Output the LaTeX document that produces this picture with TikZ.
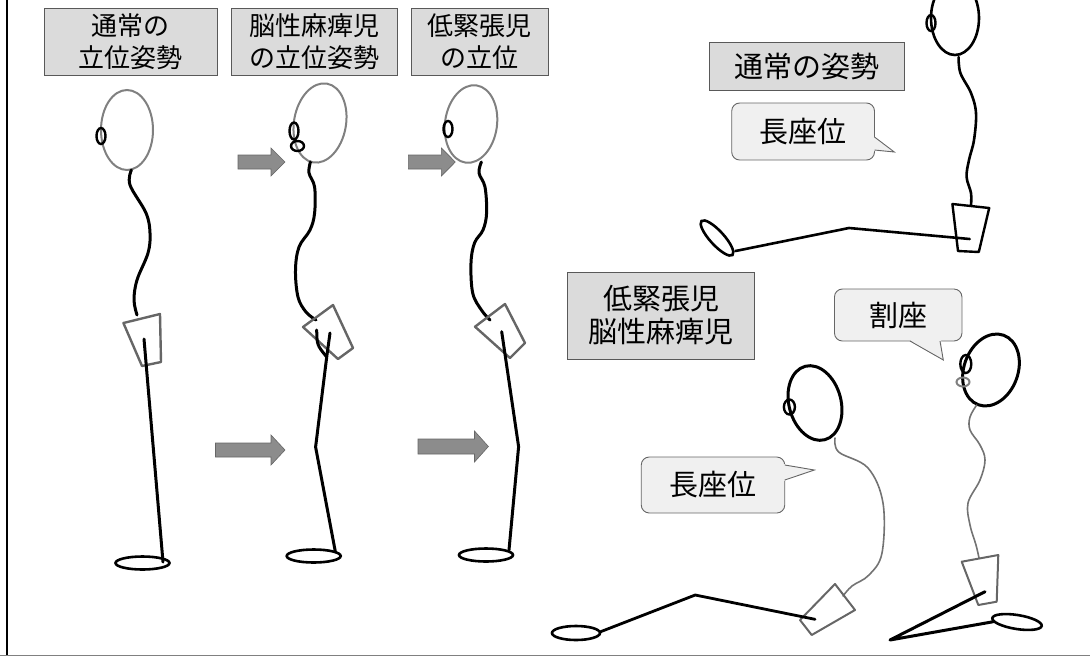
\documentclass[tikz,border=0pt]{standalone}
\usepackage{fontspec}
\newfontfamily\jp{Noto Sans CJK JP}
\begin{document}
\begin{tikzpicture}[x=1pt,y=-1pt,
  labelbox/.style={draw=black!65, line width=0.9pt, fill=black!14, align=center, inner sep=0pt},
  smallfont/.style={font=\jp\fontsize{26}{32}\selectfont},
  bigfont/.style={font=\jp\fontsize{29}{33}\selectfont},
  callbox/.style={draw=black!60, line width=0.9pt, fill=black!6, rounded corners=8pt, inner sep=0pt},
  tailfill/.style={fill=black!6},
  taildraw/.style={draw=black!60, line width=0.9pt, line join=miter},
  headgray/.style={draw=black!50, line width=2pt},
  headblack/.style={draw=black, line width=2.6pt},
  eye/.style={draw=black, line width=2.4pt},
  eyegray/.style={draw=black!50, line width=2pt},
  spine/.style={draw=black, line width=3pt, line cap=round, line join=round},
  thinspine/.style={draw=black!55, line width=1.6pt, line cap=round, line join=round},
  pelvis/.style={draw=black!60, line width=2.4pt, line join=round},
  pelvisblack/.style={draw=black, line width=2.4pt, line join=round},
  limb/.style={draw=black, line width=3pt, line cap=round, line join=round},
  foot/.style={draw=black, line width=2.6pt},
  fatarrow/.style={fill=black!45, draw=black!60, line width=0.6pt, line join=miter}]
\useasboundingbox (0,0) rectangle (1090,657);
\clip (0,0) rectangle (1090,657);

% frame
\draw[black, line width=2pt] (7,0) -- (7,655);
\draw[black!50, line width=1.5pt] (0,655.5) -- (1090,655.5);

% headings of the standing figures
\node[labelbox, smallfont, minimum width=173pt, minimum height=67pt] (lab1) at (130.6,41.5) {通常の\\立位姿勢};
\node[labelbox, smallfont, minimum width=166pt, minimum height=67pt] (lab2) at (314.2,41.5) {脳性麻痺児\\の立位姿勢};
\node[labelbox, smallfont, minimum width=137pt, minimum height=67pt] (lab3) at (479.6,41.5) {低緊張児\\の立位};

% ---- standing figure 1: typical posture ----
\draw[headgray] (127,130) ellipse [x radius=26pt, y radius=40pt];
\draw[eye] (101,136) ellipse [x radius=4.5pt, y radius=8pt];
\draw[spine] plot[smooth, tension=0.6] coordinates {(131.4,170) (130,185) (146,213) (150,233) (148,253) (137,280) (134,300) (137,315)};
\draw[pelvis] (123.4,323) -- (160,314) -- (161,362) -- (142,366) -- cycle;
\draw[limb] (144,339) -- (163,562);
\draw[foot] (142.5,563) ellipse [x radius=27pt, y radius=6.5pt];

% ---- standing figure 2: cerebral palsy ----
\draw[headgray, rotate around={-10:(320,123)}] (320,123) ellipse [x radius=26pt, y radius=40pt];
\draw[eye] (294,131) ellipse [x radius=4.5pt, y radius=8.5pt];
\draw[eye] (297.5,146) ellipse [x radius=6.5pt, y radius=5pt];
\draw[spine] plot[smooth, tension=0.6] coordinates {(310.4,162) (309,173) (314.6,187) (314.6,213) (310,230) (299,247) (295.5,270) (298,297) (306,312) (316,320)};
\draw[pelvis] (303,327) -- (333,305) -- (353,348) -- (338,359) -- cycle;
\draw[limb] (316.7,330) .. controls (317,345) .. (326.7,357);
\draw[limb] (330,333) -- (326.7,357) -- (315.6,447) -- (335.4,552);
\draw[foot] (313.7,556) ellipse [x radius=27pt, y radius=6.5pt];

% ---- standing figure 3: low muscle tone ----
\draw[headgray, rotate around={-8:(471,124)}] (471,124) ellipse [x radius=26pt, y radius=39pt];
\draw[eye] (448,129) ellipse [x radius=4.5pt, y radius=8pt];
\draw[spine] plot[smooth, tension=0.6] coordinates {(481.4,162) (479,173) (485,187) (486.6,213) (483,230) (474.5,243) (471,263) (472.7,293) (481.4,310) (490,320)};
\draw[pelvis] (475,326.7) -- (505,304) -- (525,343) -- (510,358) -- cycle;
\draw[limb] (501.7,331.7) -- (518.6,446.7) -- (509,550);
\draw[foot] (486,555) ellipse [x radius=27pt, y radius=6.5pt];

% arrows between the standing figures
\draw[fatarrow] (238,155) -- (271,155) -- (271,148) -- (285,162) -- (271,176) -- (271,169) -- (238,169) -- cycle;
\draw[fatarrow] (408.4,155) -- (441.4,155) -- (441.4,148) -- (455.3,162) -- (441.4,176) -- (441.4,169) -- (408.4,169) -- cycle;
\draw[fatarrow] (215.5,443) -- (271,443) -- (271,435) -- (285,450) -- (271,465) -- (271,457) -- (215.5,457) -- cycle;
\draw[fatarrow] (418,439) -- (474.5,439) -- (474.5,431) -- (488.4,446.5) -- (474.5,462) -- (474.5,454) -- (418,454) -- cycle;

% ---- long sitting, typical ----
\node[labelbox, bigfont, minimum width=194.6pt, minimum height=48pt] (lab4) at (806.7,66) {通常の姿勢};
\node[callbox, bigfont, minimum width=142.8pt, minimum height=57pt] (call1) at (803.1,131.5) {長座位};
\fill[tailfill] (873,136) -- (894.3,152) -- (873,151) -- cycle;
\draw[taildraw] (874.5,137) -- (894.3,152) -- (874.5,150);

\draw[headblack] (955,18) ellipse [x radius=24pt, y radius=37pt];
\draw[eye] (931,23) ellipse [x radius=4.5pt, y radius=8pt];
\draw[spine, line width=2.6pt] plot[smooth, tension=0.6] coordinates {(958.6,57) (960.4,73) (971,93) (976,113) (974,140) (969,160) (966.6,177) (971,193) (971,205)};
\draw[pelvisblack] (952.4,204) -- (989.2,208) -- (978.8,252) -- (958,251) -- cycle;
\draw[limb, line width=2.6pt] (969.7,239) -- (849,228) -- (735.5,251);
\draw[foot, rotate around={-47.6:(717,238)}] (717,238) ellipse [x radius=23pt, y radius=7pt];

% ---- low tone / cerebral palsy sitting ----
\node[labelbox, bigfont, minimum width=186.7pt, minimum height=87pt] (lab5) at (661,315.5) {低緊張児\\脳性麻痺児};

% long sitting
\node[callbox, bigfont, minimum width=143.5pt, minimum height=56pt] (call2) at (713,485) {長座位};
\fill[tailfill] (783.3,464) -- (814.4,470) -- (783.3,481) -- cycle;
\draw[taildraw] (784.8,465) -- (814.4,470) -- (784.8,480);

\draw[headblack, line width=3pt, rotate around={15:(815,403)}] (815,403) ellipse [x radius=26pt, y radius=38pt];
\draw[eye] (789.4,407) ellipse [x radius=5.5pt, y radius=7.5pt];
\draw[thinspine] plot[smooth, tension=0.6] coordinates {(835,438) (838.7,452) (868,468) (883,503) (882,553) (869,575) (852,586) (843,596)};
\draw[pelvis, line width=2pt] (800,620) -- (835,584) -- (855,610) -- (811.7,635) -- cycle;
\draw[limb, line width=2.8pt] (815,619.3) -- (695.2,595) -- (600.6,631.7);
\draw[foot] (576,633) ellipse [x radius=24pt, y radius=7pt];

% W-sitting
\node[callbox, bigfont, minimum width=127.5pt, minimum height=52pt] (call3) at (898.2,315) {割座};
\fill[tailfill] (909,339.5) -- (943.3,360) -- (941,339.5) -- cycle;
\draw[taildraw] (910,341) -- (943.3,360) -- (940,341);

\draw[headblack, line width=3pt, rotate around={-20:(991,370)}] (991,370) ellipse [x radius=27pt, y radius=37pt];
\draw[eye] (965.8,364) ellipse [x radius=5.5pt, y radius=9pt];
\draw[eyegray] (963,382) ellipse [x radius=6.5pt, y radius=4.5pt];
\draw[thinspine] plot[smooth, tension=0.6] coordinates {(976.7,405) (970,417) (970,430) (980,445) (985,460) (980,480) (968,503) (970,525) (976,545) (979,558)};
\draw[pelvis, line width=2pt] (961.7,561.7) -- (998.3,555) -- (996.7,601.7) -- (978.3,605) -- cycle;
\draw[limb] (985,591.7) -- (890,640) -- (993.3,621.7);
\draw[foot, rotate around={-9:(1017,622)}] (1017,622) ellipse [x radius=25pt, y radius=7pt];
\end{tikzpicture}
\end{document}
